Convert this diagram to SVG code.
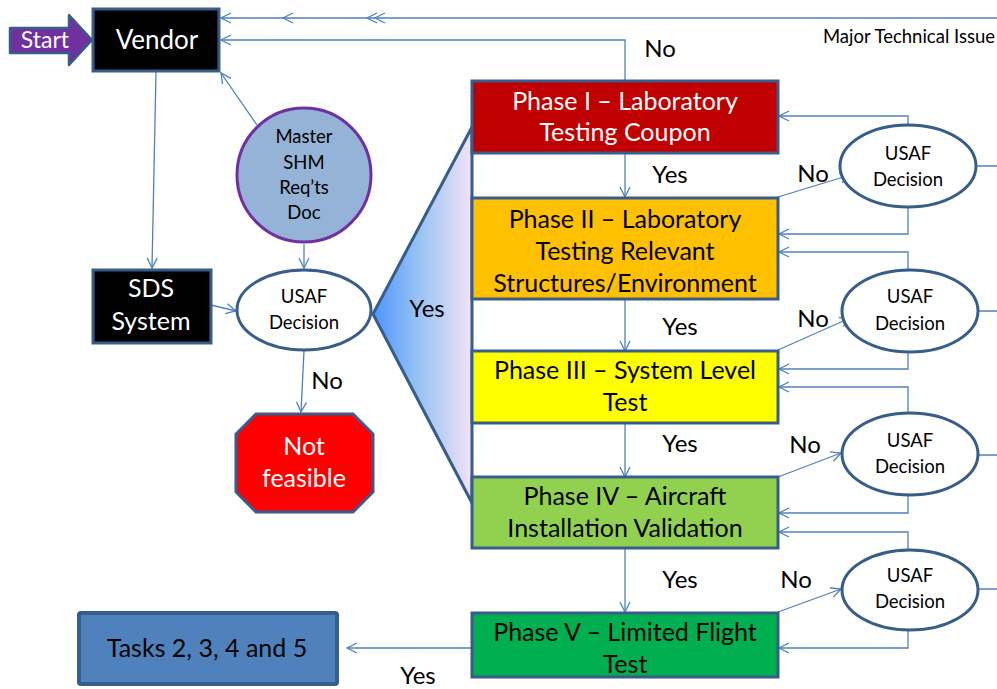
<svg xmlns="http://www.w3.org/2000/svg" width="997" height="689" viewBox="0 0 997 689">
<style>
text{font-family:Lato,"Liberation Sans",sans-serif;text-anchor:middle;fill:#000}
.big{font-size:25px}
.sm{font-size:18.5px}
.lbl{font-size:24px}
.w{fill:#fff}
.box{stroke:#385D8A;stroke-width:3}
.ell{fill:#fff;stroke:#385D8A;stroke-width:3}
.c{fill:none;stroke:#4F81BD;stroke-width:1.3}
.a{marker-end:url(#ah)}
</style>
<defs>
<marker id="ah" viewBox="0 0 12 12" refX="11" refY="6" markerWidth="12" markerHeight="12" orient="auto" markerUnits="userSpaceOnUse">
<path d="M1,1 L11,6 L1,11" fill="none" stroke="#4F81BD" stroke-width="1.3"/>
</marker>
<linearGradient id="fun" x1="373" y1="0" x2="472" y2="0" gradientUnits="userSpaceOnUse">
<stop offset="0" stop-color="#4D94FB"/>
<stop offset="0.45" stop-color="#96C2F4"/>
<stop offset="1" stop-color="#F2E2F6"/>
</linearGradient>
</defs>

<g id="connectors">
<path class="c a" d="M997,18 H221"/>
<path class="c" d="M293,13 L283,18 L293,23 M377,13 L367,18 L377,23 M385,13 L375,18 L385,23"/>
<path class="c a" d="M625,81 V40 H221"/>
<path class="c a" d="M156,72 L152,268"/>
<path class="c a" d="M257,125 L221,73"/>
<path class="c a" d="M304,244 V268"/>
<path class="c a" d="M211,305 L236,311"/>
<path class="c a" d="M304,351 L301,412"/>
<path class="c a" d="M625,153 V197"/>
<path class="c a" d="M625,299 V351"/>
<path class="c a" d="M625,423 V477"/>
<path class="c a" d="M625,548 V612"/>
<path class="c a" d="M472,648 H347"/>
<path class="c a" d="M778,197 L850,175"/>
<path class="c a" d="M778,350 L850,318"/>
<path class="c a" d="M778,477 L841,453"/>
<path class="c a" d="M778,612 L841,589"/>
<path class="c a" d="M908,125 V116 H779"/>
<path class="c a" d="M908,207 V234 H779"/>
<path class="c a" d="M908,270 V252 H779"/>
<path class="c a" d="M908,352 V369 H779"/>
<path class="c a" d="M908,413 V387 H779"/>
<path class="c a" d="M908,495 V513 H779"/>
<path class="c a" d="M908,550 V532 H779"/>
<path class="c a" d="M908,630 V648 H779"/>
<path class="c" d="M977,166 H997 M978,311 H997 M978,455 H997 M978,589 H997"/>
</g>

<g id="funnel">
<polygon points="373,314 472,127 472,503" fill="url(#fun)" stroke="#385D8A" stroke-width="3" stroke-linejoin="round"/>
</g>

<g id="start">
<polygon points="10,28 69,28 69,15 92,40 69,65 69,53 10,53" fill="#7030A0" stroke="#385D8A" stroke-width="2.5" stroke-linejoin="round"/>
<text x="45" y="48" class="w" style="font-size:23px">Start</text>
</g>

<g id="vendor">
<rect x="93" y="9" width="126" height="62" fill="#000" class="box"/>
<text x="157" y="49" class="w" style="font-size:26px">Vendor</text>
</g>

<g id="master-doc">
<circle cx="304" cy="175" r="67" fill="#95B3D7" stroke="#7030A0" stroke-width="3"/>
<text x="304" y="143" class="sm">Master</text>
<text x="304" y="169" class="sm">SHM</text>
<text x="304" y="194" class="sm">Req’ts</text>
<text x="304" y="219" class="sm">Doc</text>
</g>

<g id="sds">
<rect x="93" y="270" width="118" height="73" fill="#000" class="box"/>
<text x="151" y="297" class="big w">SDS</text>
<text x="151" y="330" class="big w">System</text>
</g>

<g id="usaf-main">
<ellipse cx="304" cy="310" rx="67" ry="40" class="ell"/>
<text x="304" y="303" class="sm">USAF</text>
<text x="304" y="329" class="sm">Decision</text>
</g>

<g id="not-feasible">
<polygon points="256,414 353,414 373,434 373,492 353,512 256,512 236,492 236,434" fill="#FF0000" class="box"/>
<text x="304" y="455" class="big w">Not</text>
<text x="304" y="487" class="big w">feasible</text>
</g>

<g id="phase1">
<rect x="472" y="81" width="306" height="72" fill="#C00000" class="box"/>
<text x="625" y="110" class="big w">Phase I – Laboratory</text>
<text x="625" y="141" class="big w">Testing Coupon</text>
</g>

<g id="phase2">
<rect x="472" y="198" width="306" height="101" fill="#FFC000" class="box"/>
<text x="625" y="228" class="big">Phase II – Laboratory</text>
<text x="625" y="260" class="big">Testing Relevant</text>
<text x="625" y="292" class="big">Structures/Environment</text>
</g>

<g id="phase3">
<rect x="472" y="351" width="306" height="72" fill="#FFFF00" class="box"/>
<text x="625" y="379" class="big">Phase III – System Level</text>
<text x="625" y="411" class="big">Test</text>
</g>

<g id="phase4">
<rect x="472" y="477" width="306" height="71" fill="#92D050" class="box"/>
<text x="625" y="505" class="big">Phase IV – Aircraft</text>
<text x="625" y="537" class="big">Installation Validation</text>
</g>

<g id="phase5">
<rect x="472" y="613" width="306" height="64" fill="#00B050" class="box"/>
<text x="625" y="641" class="big">Phase V – Limited Flight</text>
<text x="625" y="673" class="big">Test</text>
</g>

<g id="tasks">
<rect x="79" y="613" width="258" height="71" rx="2" fill="#4F81BD" stroke="#385D8A" stroke-width="4"/>
<text x="207" y="657" class="big">Tasks 2, 3, 4 and 5</text>
</g>

<g id="usaf1">
<ellipse cx="908" cy="166" rx="68" ry="41" class="ell"/>
<text x="908" y="160" class="sm">USAF</text>
<text x="908" y="186" class="sm">Decision</text>
</g>
<g id="usaf2">
<ellipse cx="910" cy="311" rx="68" ry="41" class="ell"/>
<text x="910" y="303" class="sm">USAF</text>
<text x="910" y="330" class="sm">Decision</text>
</g>
<g id="usaf3">
<ellipse cx="910" cy="454" rx="68" ry="41" class="ell"/>
<text x="910" y="447" class="sm">USAF</text>
<text x="910" y="473" class="sm">Decision</text>
</g>
<g id="usaf4">
<ellipse cx="910" cy="590" rx="68" ry="40" class="ell"/>
<text x="910" y="582" class="sm">USAF</text>
<text x="910" y="608" class="sm">Decision</text>
</g>

<g id="labels">
<text x="995" y="43" style="text-anchor:end;font-size:18.5px">Major Technical Issue</text>
<text x="660" y="57" class="lbl">No</text>
<text x="427" y="317" class="lbl">Yes</text>
<text x="327" y="389" class="lbl">No</text>
<text x="670" y="183" class="lbl">Yes</text>
<text x="680" y="335" class="lbl">Yes</text>
<text x="680" y="452" class="lbl">Yes</text>
<text x="680" y="588" class="lbl">Yes</text>
<text x="418" y="684" class="lbl">Yes</text>
<text x="813" y="182" class="lbl">No</text>
<text x="813" y="327" class="lbl">No</text>
<text x="805" y="453" class="lbl">No</text>
<text x="796" y="588" class="lbl">No</text>
</g>
</svg>
